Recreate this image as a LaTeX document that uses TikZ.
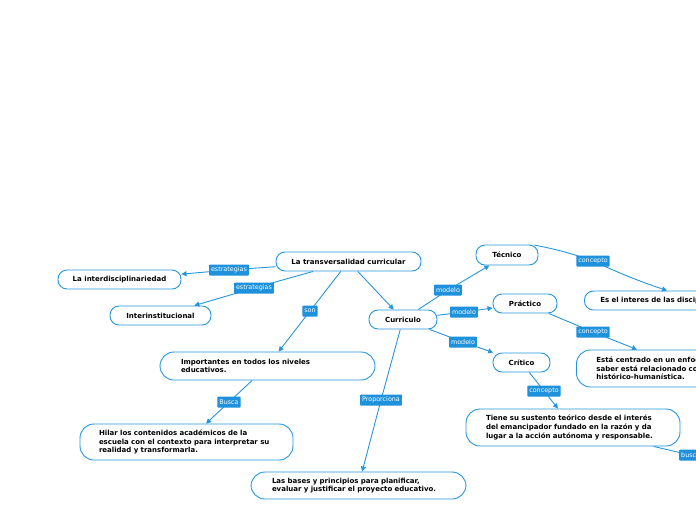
\documentclass[tikz,border=0pt]{standalone}
\usepackage{fontspec}
\setmainfont{DejaVu Sans}
\usetikzlibrary{arrows.meta,calc}
\definecolor{mblue}{RGB}{37,150,220}
\definecolor{lblue}{RGB}{30,145,220}
\tikzset{
 topic/.style={draw=mblue, line width=0.9pt, rounded corners=9pt, fill=white,
   font=\fontsize{7}{8.6}\selectfont\bfseries, minimum height=19pt, inner sep=0pt},
 bigtopic/.style={topic, rounded corners=14pt, align=left},
 lbl/.style={fill=lblue, text=white, font=\fontsize{6.4}{7}\selectfont, inner xsep=2pt,
   inner ysep=0pt, minimum height=11pt, rounded corners=0.8pt},
 conn/.style={draw=mblue, line width=0.9pt},
 arr/.style={conn, -{Triangle[length=5pt,width=5pt]}},
}
\begin{document}
\begin{tikzpicture}[x=1pt,y=-1pt]
\useasboundingbox (0,0) rectangle (696,520);
% topics
\node[topic, minimum width=145pt] (trans) at (348.5,261.5) {La transversalidad curricular};
\node[topic, minimum width=123pt] (interd) at (119.5,279.5) {La interdisciplinariedad};
\node[topic, minimum width=101pt] (interinst) at (160.5,315.5) {Interinstitucional};
\node[topic, minimum width=68pt] (curric) at (403,319.5) {Curriculo};
\node[topic, minimum width=62pt, minimum height=20pt] (tecnico) at (507,255) {Técnico};
\node[topic, minimum width=64pt] (practico) at (525,303.5) {Práctico};
\node[topic, minimum width=57pt] (critico) at (521.5,362.5) {Crítico};
\node[topic, anchor=west, minimum width=170pt, inner xsep=16pt, text width=138pt, align=left] (esint) at (584,300.5) {Es el interes de las disciplinas};
\node[bigtopic, inner xsep=21pt, text width=173pt, minimum height=28pt] (importantes) at (267.5,366)
  {Importantes en todos los niveles\\educativos.};
\node[bigtopic, inner xsep=19pt, text width=175pt, minimum height=36pt] (hilar) at (186.5,442)
  {Hilar los contenidos académicos de la\\escuela con el contexto para interpretar su\\realidad y transformarla.};
\node[bigtopic, inner xsep=21pt, text width=173pt, minimum height=27pt] (bases) at (358.5,485.5)
  {Las bases y principios para planificar,\\evaluar y justificar el proyecto educativo.};
\node[bigtopic, inner xsep=20pt, text width=174pt, minimum height=37pt] (tiene) at (573,427.5)
  {Tiene su sustento teórico desde el interés\\del emancipador fundado en la razón y da\\lugar a la acción autónoma y responsable.};
\node[bigtopic, anchor=west, inner xsep=20pt, text width=175pt, minimum height=37pt] (estac) at (576,368.5)
  {Está centrado en un enfoque\\saber está relacionado con\\histórico-humanística.};
% label positions
\coordinate (ce1) at (229,270);
\coordinate (ce2) at (254,288);
\coordinate (cson) at (310,311);
\coordinate (cbusca) at (229,402);
\coordinate (cprop) at (381,400);
\coordinate (cm1) at (448,290);
\coordinate (cm2) at (464,312);
\coordinate (cm3) at (463,342);
\coordinate (cc1) at (593,261);
\coordinate (cc2) at (593,332);
\coordinate (cc3) at (544,391);
\coordinate (cbusca2) at (690,455);
\coordinate (tecstart) at ($(tecnico.north east)+(-4,0.5)$);
\coordinate (esintend) at ($(esint.north west)+(83,0)$);
\coordinate (estacend) at ($(estac.north west)+(61,0)$);
% connectors
\draw[conn] (trans) -- (ce1); \draw[arr] (ce1) -- (interd);
\draw[conn] (trans) -- (ce2); \draw[arr] (ce2) -- (interinst);
\draw[conn] (trans) -- (cson); \draw[arr] (cson) -- (importantes);
\draw[arr] (trans) -- (curric);
\draw[conn] (curric) -- (cm1); \draw[arr] (cm1) -- (tecnico);
\draw[conn] (curric) -- (cm2); \draw[arr] (cm2) -- (practico);
\draw[conn] (curric) -- (cm3); \draw[arr] (cm3) -- (critico);
\draw[conn] (curric) -- (cprop); \draw[arr] (cprop) -- (bases);
\draw[conn] (tecstart) to[bend left=4] (cc1); \draw[arr] (cc1) to[bend right=3] (esintend);
\draw[conn] (practico) -- (cc2); \draw[arr] (cc2) -- (estacend);
\draw[conn] (critico) -- (cc3); \draw[arr] (cc3) -- (tiene);
\draw[conn] (importantes) -- (cbusca); \draw[arr] (cbusca) -- (hilar);
\draw[conn] (tiene) -- (cbusca2);
% labels
\node[lbl] (le1) at (ce1) {estrategias};
\node[lbl] (le2) at (ce2) {estrategias};
\node[lbl] (lson) at (cson) {son};
\node[lbl] (lbusca) at (cbusca) {Busca};
\node[lbl] (lprop) at (cprop) {Proporciona};
\node[lbl] (lm1) at (cm1) {modelo};
\node[lbl] (lm2) at (cm2) {modelo};
\node[lbl] (lm3) at (cm3) {modelo};
\node[lbl] (lc1) at (cc1) {concepto};
\node[lbl] (lc2) at (cc2) {concepto};
\node[lbl] (lc3) at (cc3) {concepto};
\node[lbl, anchor=west] (lbusca2) at (679,455) {busca};
\end{tikzpicture}
\end{document}
